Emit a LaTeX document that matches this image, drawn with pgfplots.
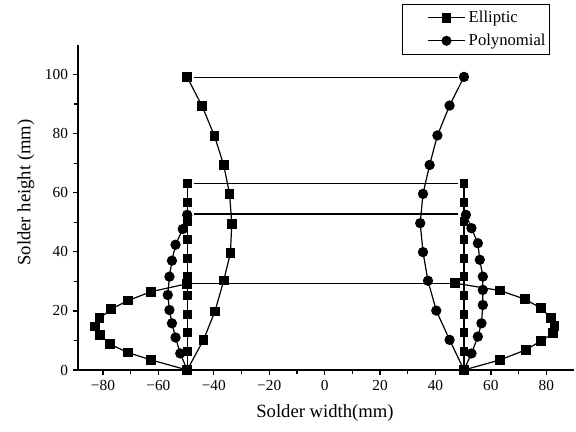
\documentclass[border=0pt]{standalone}
\usepackage{fontspec}
\setmainfont{Liberation Serif}
\usepackage{pgfplots}
\pgfplotsset{compat=1.18}

\begin{document}
\begin{tikzpicture}
\path[use as bounding box] (-58.5pt,-46.5pt) rectangle (373.5pt,277.5pt);
\begin{axis}[
    at={(0,0)}, anchor=south west,
    scale only axis,
    width=372pt, height=243.75pt,
    xmin=-89, xmax=90,
    ymin=0, ymax=110,
    axis lines*=left,
    axis line style={line width=1.2pt},
    tick align=outside,
    xtick={-80,-60,...,80},
    xticklabels={−80,−60,−40,−20,0,20,40,60,80},
    ytick={0,20,...,100},
    minor x tick num=1,
    minor y tick num=1,
    major tick length=4pt,
    minor tick length=3pt,
    every tick/.style={black, line width=1pt},
    tick label style={font=\fontsize{11.5}{13}\selectfont},
    /pgf/number format/assume math mode=true,
    xlabel={Solder width(mm)},
    ylabel={Solder height (mm)},
    label style={font=\fontsize{14}{16}\selectfont},
    xlabel style={at={(axis description cs:0.498,-0.132)}, anchor=center},
    ylabel style={at={(axis description cs:-0.105,0.546)}, anchor=center},
    clip=false,
    every axis plot/.append style={black, line width=0.9pt},
    legend style={
        at={(0.9516,1.126)}, anchor=north east,
        draw=black, line width=0.6pt,
        font=\fontsize{12.5}{14}\selectfont,
        row sep=3pt,
        inner ysep=3pt, inner xsep=1pt,
        cells={anchor=west},
    },
    legend image code/.code={
        \path (-0.6cm,0cm);
        \draw[mark repeat=2,mark phase=2] plot coordinates {(0cm,0cm) (0.5cm,0cm) (1.0cm,0cm)};
    },
]
\addlegendimage{black, line width=0.9pt, mark=square*, mark size=3.2pt}
\addlegendimage{black, line width=0.9pt, mark=*, mark size=3.3pt}

% height 100 profile
\addplot[mark=square*, mark size=3.2pt] coordinates {
(-49.6,99.1) (-44.2,89.3) (-39.7,79.1) (-36.4,69.3) (-34.3,59.6) (-33.5,49.4)
(-34.0,39.6) (-36.4,30.3) (-39.6,19.8) (-43.7,10.2) (-49.6,0)};
\addplot[mark=*, mark size=3.4pt] coordinates {
(50.3,99.2) (45.1,89.5) (40.7,79.4) (37.9,69.4) (35.5,59.6) (34.5,49.7)
(35.5,39.9) (37.3,30.2) (40.3,20.1) (45.1,10.2) (50.3,0)};

% height 63 profile
\addplot[mark=square*, mark size=2.9pt] coordinates {
(-49.6,0) (-49.6,6.3) (-49.6,12.6) (-49.6,18.9) (-49.6,25.2) (-49.6,31.5)
(-49.6,37.8) (-49.6,44.1) (-49.6,50.4) (-49.6,56.7) (-49.6,63)};
\addplot[mark=square*, mark size=2.9pt] coordinates {
(50.3,0) (50.3,6.3) (50.3,12.6) (50.3,18.9) (50.3,25.2) (50.3,31.5)
(50.3,37.8) (50.3,44.1) (50.3,50.4) (50.3,56.7) (50.3,63)};

% height 53 profile
\addplot[mark=*, mark size=3.4pt] coordinates {
(-49.6,0) (-52.1,5.6) (-53.8,11) (-55.1,15.8) (-56,20.3) (-56.6,25.4)
(-56,31.6) (-55.1,37) (-53.8,42.4) (-51.2,47.7) (-49.6,52.5)};
\addplot[mark=*, mark size=3.4pt] coordinates {
(50.3,0) (53,5.6) (55.3,11.3) (56.6,15.8) (57.1,22) (57.1,27.1)
(57.1,31.6) (56,37.3) (55.3,42.9) (53,48) (51,52.5)};

% height 29 profile
\addplot[mark=square*, mark size=3.2pt] coordinates {
(-49.6,0) (-62.6,3.4) (-71,5.9) (-77.4,8.7) (-81,11.9) (-82.8,14.7)
(-81.2,17.5) (-77,20.6) (-71,23.5) (-62.6,26.5) (-49.6,29.2)};
\addplot[mark=square*, mark size=3.2pt] coordinates {
(50.3,0) (63.2,3.4) (72.6,6.8) (78.2,9.9) (82.4,12.4) (83,14.9)
(81.8,17.5) (78.2,20.9) (72.2,24) (63.2,26.9) (47,29.4)};

% upper pads
\addplot[no markers] coordinates {(-47,99) (48,99)};
\addplot[no markers] coordinates {(-47,63) (48,63)};
\addplot[no markers] coordinates {(-47,52.8) (48,52.8)};
\addplot[no markers] coordinates {(-49.6,29.2) (47,29.2)};

\legend{Elliptic, Polynomial}
\end{axis}
\end{tikzpicture}
\end{document}
